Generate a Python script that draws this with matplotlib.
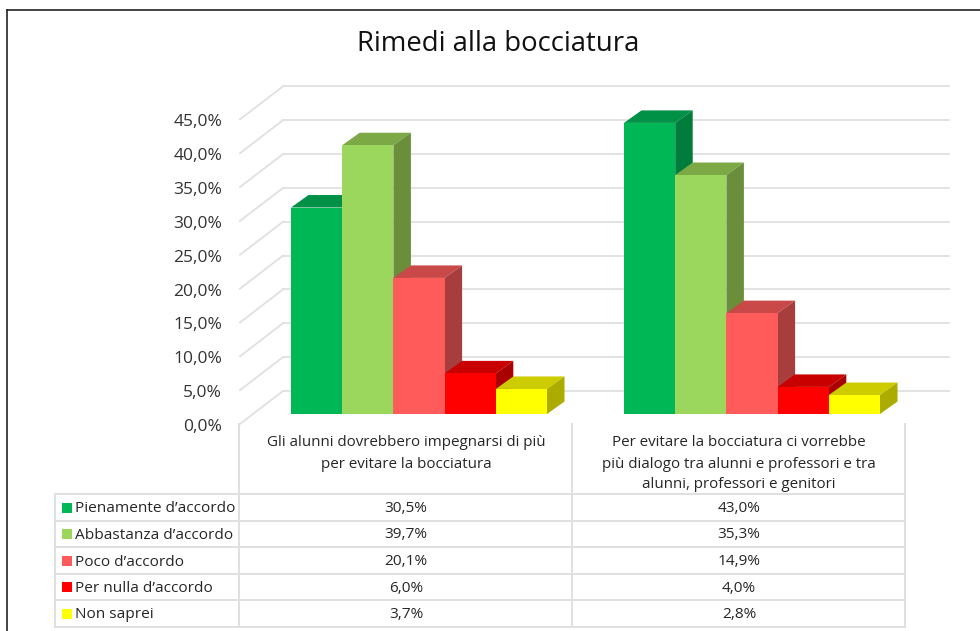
import matplotlib
matplotlib.use("Agg")
import matplotlib.pyplot as plt
from matplotlib.patches import Polygon

plt.rcParams['font.family'] = ['Open Sans', 'DejaVu Sans']

titolo = "Rimedi alla bocciatura"
categorie = ["Gli alunni dovrebbero impegnarsi di più\nper evitare la bocciatura",
             "Per evitare la bocciatura ci vorrebbe\npiù dialogo tra alunni e professori e tra\nalunni, professori e genitori"]
serie = ["Pienamente d’accordo", "Abbastanza d’accordo", "Poco d’accordo", "Per nulla d’accordo", "Non saprei"]
valori_1 = [30.5, 39.7, 20.1, 6.0, 3.7]
valori_2 = [43.0, 35.3, 14.9, 4.0, 2.8]
tacche = [0, 5, 10, 15, 20, 25, 30, 35, 40, 45]

col_front = ["#00B755", "#9BD75C", "#FF5B5B", "#FF0000", "#FFFF00"]
col_top = ["#009147", "#7DA846", "#C94848", "#C90000", "#CCCC00"]
col_side = ["#007C3C", "#6A8E3A", "#A83D3D", "#AA0000", "#ABAB00"]

W, H = 980, 631
scala = 6.77      # pixel per 1%
base = 414        # pixel y dello zero delle barre
fs = 11.1         # testo tabella

fig = plt.figure(figsize=(W / 100, H / 100), dpi=100, facecolor="white")

# assi in pixel per cornice, tabella e testi
px = fig.add_axes([0, 0, 1, 1])
px.set_xlim(0, W)
px.set_ylim(H, 0)
px.axis("off")

# assi con y in percentuale, x in pixel
ax = fig.add_axes([0, 0, 1, 1])
ax.set_xlim(0, W)
ax.set_ylim((base - H) / scala, base / scala)
ax.axis("off")
ax.patch.set_alpha(0)

griglia = "#E0E0E0"
front_0 = -10 / scala
back_0 = 23 / scala
for t in tacche:
    ax.plot([240, 283], [front_0 + t, back_0 + t], color=griglia, lw=1.3, zorder=1)
    ax.plot([283, 949], [back_0 + t, back_0 + t], color=griglia, lw=1.3, zorder=1)
    px.text(222, base + 13 - t * scala, f"{t:.1f}%".replace(".", ","), ha="right", va="center",
            fontsize=12.5, color="#333333")

# barre finte 3D
larg = 51.2
dx = 17.5
dy = 12.5 / scala
z = 2
for inizio, valori in zip([291, 624], [valori_1, valori_2]):
    for i, v in enumerate(valori):
        x = inizio + i * larg
        ax.bar(x, v, width=larg, align="edge", color=col_front[i], lw=0, zorder=z + 2)
        ax.add_patch(Polygon([(x, v), (x + larg, v), (x + larg + dx, v + dy), (x + dx, v + dy)],
                             closed=True, fc=col_top[i], ec="none", zorder=z))
        ax.add_patch(Polygon([(x + larg, 0), (x + larg + dx, dy), (x + larg + dx, v + dy), (x + larg, v)],
                             closed=True, fc=col_side[i], ec="none", zorder=z + 1))
        z += 3

# tabella
righe = [494, 521, 547, 574, 600, 627]
for y in righe:
    px.plot([55, 905], [y, y], color=griglia, lw=1.4)
px.plot([55, 55], [494, 627], color=griglia, lw=1.4)
for x in [239, 572, 905]:
    px.plot([x, x], [424, 627], color=griglia, lw=1.4)

for k, riga in enumerate(categorie[0].split("\n")):
    px.text(406, 443 + k * 22, riga, ha="center", va="center", fontsize=10.9, color="#262626")
for k, riga in enumerate(categorie[1].split("\n")):
    px.text(739, 443 + k * 21, riga, ha="center", va="center", fontsize=10.9, color="#262626")

for i, nome in enumerate(serie):
    yc = (righe[i] + righe[i + 1]) / 2
    px.add_patch(plt.Rectangle((62, yc - 5), 10, 10, fc=col_front[i], ec="none"))
    px.text(75, yc + 1.5, nome, ha="left", va="center", fontsize=fs, color="#262626")
    px.text(406, yc + 1, f"{valori_1[i]:.1f}%".replace(".", ","), ha="center", va="center", fontsize=fs, color="#262626")
    px.text(739, yc + 1, f"{valori_2[i]:.1f}%".replace(".", ","), ha="center", va="center", fontsize=fs, color="#262626")

px.text(498, 44, titolo, ha="center", va="center", fontsize=19.8, color="#111111")

# cornice nera
px.plot([7, 7], [631, 10], color="#222222", lw=1.2)
px.plot([7, 980], [10, 10], color="#222222", lw=1.2)

fig.savefig("out.png", dpi=100)
